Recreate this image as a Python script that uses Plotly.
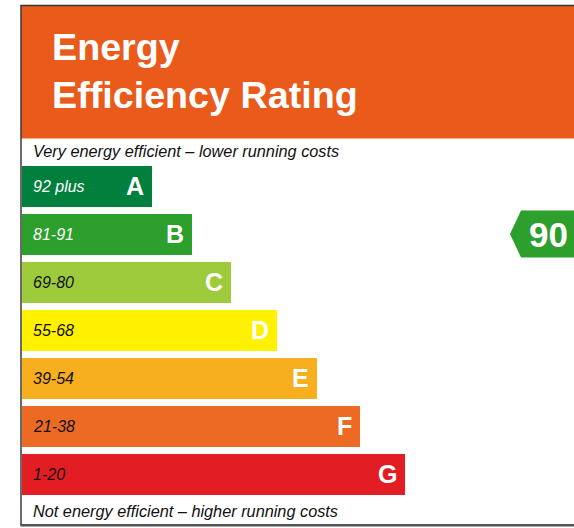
import plotly.graph_objects as go

# ---- data ----
bands = ["A", "B", "C", "D", "E", "F", "G"]
band_ranges = ["92 plus", "81-91", "69-80", "55-68", "39-54", "21-38", "1-20"]
band_min = [92, 81, 69, 55, 39, 21, 1]
bar_lengths = [130, 170, 209, 255, 295, 338, 383]
band_colors = ["#007F3D", "#2C9F2C", "#9DCB3B", "#FFF100", "#F7AE1F", "#EC6A24", "#E21D24"]
range_text_colors = ["#FFFFFF", "#FFFFFF", "#111111", "#111111", "#111111", "#111111", "#111111"]
current_rating = 90
title_lines = ["Energy", "Efficiency Rating"]
top_note = "Very energy efficient – lower running costs"
bottom_note = "Not energy efficient – higher running costs"

W, H = 574, 528
X0 = 22            # left edge of bars (x units == pixels)
ROW0, ROWH = 186, 48  # pixel centre of first band and row pitch
idx = list(range(len(bands)))

def py(p):
    """pixel y -> band-index units"""
    return (p - ROW0) / ROWH

fig = go.Figure()

# bars
fig.add_trace(go.Bar(
    orientation="h", y=idx, x=bar_lengths, base=X0,
    width=41 / ROWH,
    marker=dict(color=band_colors, line=dict(width=0)),
    hoverinfo="skip", showlegend=False,
))

# current rating arrow
r_i = next(i for i, m in enumerate(band_min) if current_rating >= m)
h = 23.5 / ROWH
ax = [510, 521, 580, 580, 521, 510]
ay = [r_i, r_i - h, r_i - h, r_i + h, r_i + h, r_i]
fig.add_trace(go.Scatter(
    x=ax, y=ay, fill="toself", fillcolor=band_colors[r_i],
    line=dict(width=0, color=band_colors[r_i]), mode="lines",
    hoverinfo="skip", showlegend=False,
))

annotations = []
for i in idx:
    annotations.append(dict(
        x=31, y=i, xref="x", yref="y", text=band_ranges[i], showarrow=False,
        xanchor="left", yanchor="middle",
        font=dict(family="Liberation Sans, Arial, sans-serif", size=16,
                  color=range_text_colors[i], style="italic"),
    ))
    annotations.append(dict(
        x=X0 + bar_lengths[i] - 6, y=i, xref="x", yref="y", text="<b>%s</b>" % bands[i],
        showarrow=False, xanchor="right", yanchor="middle",
        font=dict(family="Liberation Sans, Arial, sans-serif", size=25, color="#FFFFFF"),
    ))

annotations.append(dict(
    x=548.5, y=r_i, xref="x", yref="y", text="<b>%d</b>" % current_rating, showarrow=False,
    xanchor="center", yanchor="middle",
    font=dict(family="Liberation Sans, Arial, sans-serif", size=35, color="#FFFFFF"),
))

# title
for line, cy in zip(title_lines, [47, 95]):
    annotations.append(dict(
        x=50, y=py(cy), xref="x", yref="y", text="<b>%s</b>" % line, showarrow=False,
        xanchor="left", yanchor="middle",
        font=dict(family="Liberation Sans, Arial, sans-serif", size=37.7, color="#FFFFFF"),
    ))

for note, cy in [(top_note, 151), (bottom_note, 511)]:
    annotations.append(dict(
        x=31, y=py(cy), xref="x", yref="y", text=note, showarrow=False,
        xanchor="left", yanchor="middle",
        font=dict(family="Liberation Sans, Arial, sans-serif", size=16.3,
                  color="#111111", style="italic"),
    ))

shapes = [
    # orange header
    dict(type="rect", xref="x", yref="y", x0=21, x1=580, y0=py(6), y1=py(138.5),
         fillcolor="#E95A1B", line=dict(width=0), layer="below"),
    # borders
    dict(type="line", xref="x", yref="y", x0=20.5, x1=580, y0=py(5.5), y1=py(5.5),
         line=dict(color="#3A3533", width=1.5)),
    dict(type="line", xref="x", yref="y", x0=21, x1=21, y0=py(5), y1=py(525.5),
         line=dict(color="#3A3A3A", width=1.5)),
    dict(type="line", xref="x", yref="y", x0=20.5, x1=574, y0=py(525.2), y1=py(525.2),
         line=dict(color="#555555", width=2.5)),
]

fig.update_layout(
    width=W, height=H,
    margin=dict(l=0, r=0, t=0, b=0),
    paper_bgcolor="white", plot_bgcolor="white",
    xaxis=dict(range=[0, W], visible=False, fixedrange=True),
    yaxis=dict(range=[py(H), py(0)], visible=False, fixedrange=True),
    annotations=annotations, shapes=shapes,
    showlegend=False, bargap=0,
)

fig.write_html("out.html",
               config={"displayModeBar": False},
               post_script="document.body.style.margin='0';document.body.style.overflow='hidden';")
